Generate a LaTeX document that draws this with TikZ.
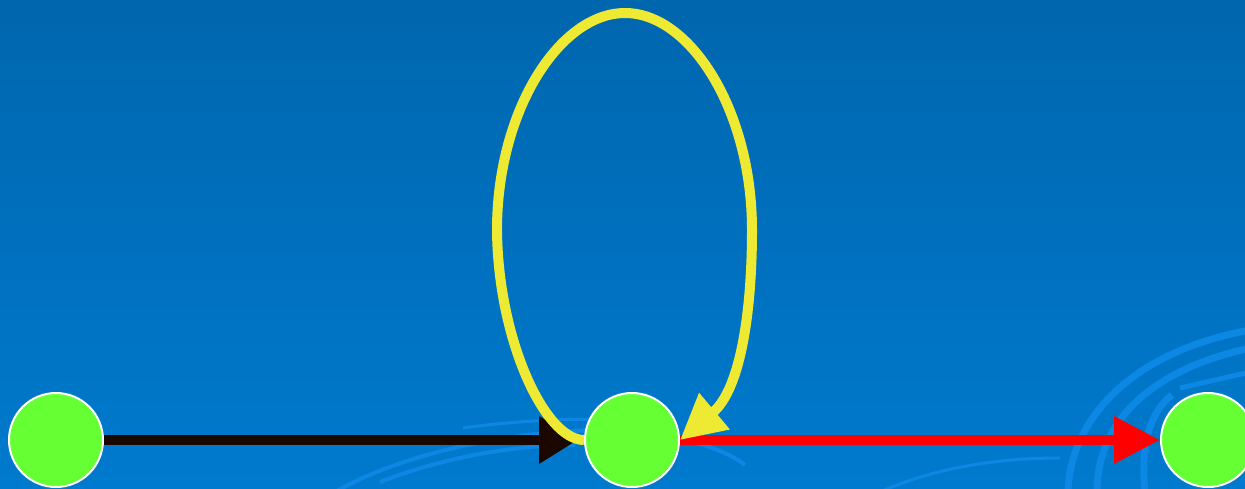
\documentclass[tikz,border=0pt]{standalone}
\usetikzlibrary{arrows.meta}
\definecolor{bgtop}{RGB}{0,102,174}
\definecolor{bgbot}{RGB}{0,122,206}
\definecolor{swirl}{RGB}{12,136,228}
\definecolor{nodegreen}{RGB}{102,255,51}
\definecolor{loopyellow}{RGB}{238,234,51}
\definecolor{darkarrow}{RGB}{26,8,0}
\begin{document}
\begin{tikzpicture}[x=1pt,y=-1pt,
  state/.style={circle,fill=nodegreen,draw=white,line width=2pt,minimum size=94pt,inner sep=0pt},
  edge/.style={line width=10pt},
  swirlline/.style={draw=swirl,line width=7pt}]
\useasboundingbox (0,0) rectangle (1245,488);
\shade[top color=bgtop,bottom color=bgbot] (0,0) rectangle (1245,488);
\begin{scope}
\clip (0,0) rectangle (1245,488);
% decorative swirls
\draw[swirlline] (1068,492) .. controls (1070,420) and (1130,352) .. (1250,330);
\draw[swirlline] (1097,492) .. controls (1097,422) and (1150,370) .. (1250,348);
\draw[swirlline] (1145,492) .. controls (1140,445) and (1150,412) .. (1172,395);
\draw[swirlline,line width=5pt] (1180,388) -- (1250,372);
\draw[swirlline,line width=4pt] (335,492) .. controls (400,455) and (500,432) .. (600,430) .. controls (660,430) and (720,445) .. (745,465);
\draw[swirlline,line width=4pt] (380,482) .. controls (450,455) and (520,445) .. (575,445);
\draw[swirlline,line width=3pt] (463,428) .. controls (520,420) and (580,418) .. (620,420);
\draw[swirlline,line width=3pt] (880,492) .. controls (930,470) and (990,458) .. (1060,458);
\end{scope}
\node[state] (a) at (56,440) {};
\node[state] (b) at (632,440) {};
\node[state] (c) at (1208,440) {};
\draw[edge,darkarrow,shorten >=6pt,-{Triangle[length=39pt,width=45pt]}] (a) -- (b);
\draw[edge,red,-{Triangle[length=46pt,width=45pt]}] (b) -- (c);
\draw[edge,loopyellow,-{Triangle[length=45pt,width=45pt]}]
  (b.west) .. controls (545,440) and (498,340) .. (497,230)
  .. controls (497,110) and (560,13) .. (625,13)
  .. controls (690,13) and (752,110) .. (752,230)
  .. controls (752,305) and (742,388) .. (b.east);
\end{tikzpicture}
\end{document}
